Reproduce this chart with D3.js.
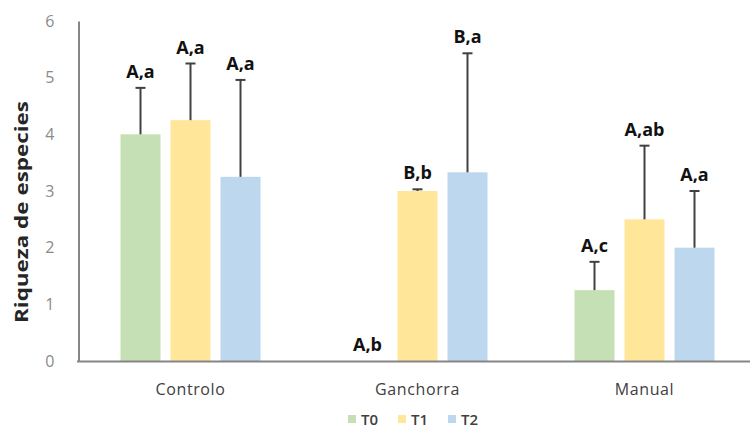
<!DOCTYPE html>
<html>
<head>
<meta charset="utf-8">
<script src="https://cdn.jsdelivr.net/npm/d3@7"></script>
<style>
  html, body { margin: 0; padding: 0; background: #fff; }
  svg { display: block; }
</style>
</head>
<body>
<svg id="chart" width="750" height="433"></svg>
<script>
// Species richness per site and sampling time
const categories = ["Controlo", "Ganchorra", "Manual"];
const seriesNames = ["T0", "T1", "T2"];
const valuesT0 = [4.0, 0, 1.25];
const valuesT1 = [4.25, 3.0, 2.5];
const valuesT2 = [3.25, 3.33, 2.0];
const errorsT0 = [0.82, 0, 0.5];
const errorsT1 = [1.0, 0.03, 1.3];
const errorsT2 = [1.71, 2.1, 1.0];
const lettersT0 = ["A,a", "A,b", "A,c"];
const lettersT1 = ["A,a", "B,b", "A,ab"];
const lettersT2 = ["A,a", "B,a", "A,a"];
const yTicks = [0, 1, 2, 3, 4, 5, 6];
const yTitle = "Riqueza de especies";

const colors = { T0: "#c5e0b4", T1: "#ffe699", T2: "#bdd7ee" };

const series = [
  { name: "T0", values: valuesT0, errors: errorsT0, letters: lettersT0 },
  { name: "T1", values: valuesT1, errors: errorsT1, letters: lettersT1 },
  { name: "T2", values: valuesT2, errors: errorsT2, letters: lettersT2 }
];

const svg = d3.select("#chart");

const y = d3.scaleLinear().domain([0, 6]).range([361, 21]);
const x0 = d3.scaleBand().domain(categories).range([77, 758]);
const x1 = d3.scaleBand().domain(seriesNames).range([-70, 70]).paddingInner(0.2);

// flatten for drawing
const rows = [];
series.forEach(s => {
  categories.forEach((c, i) => {
    rows.push({ cat: c, name: s.name, value: s.values[i], err: s.errors[i], letter: s.letters[i] });
  });
});

// bars
svg.append("g").selectAll("rect")
  .data(rows.filter(d => d.value > 0))
  .join("rect")
  .attr("x", d => x0(d.cat) + x0.bandwidth() / 2 + x1(d.name))
  .attr("y", d => y(d.value))
  .attr("width", x1.bandwidth())
  .attr("height", d => y(0) - y(d.value))
  .attr("fill", d => colors[d.name]);

// axes
const yAxis = d3.axisLeft(y).tickValues(yTicks).tickFormat(d3.format("d")).tickSize(0).tickPadding(24);
const gy = svg.append("g").attr("transform", "translate(78.5,0)").call(yAxis);
gy.select(".domain").attr("stroke", "#868686").attr("stroke-width", 2);
gy.selectAll("text")
  .attr("fill", "#8a8a8a")
  .style("font-family", "'Open Sans', sans-serif")
  .style("font-size", "16px");

const xAxis = d3.axisBottom(x0).tickSize(0).tickPadding(22);
const gx = svg.append("g").attr("transform", "translate(0,361.5)").call(xAxis);
gx.select(".domain").attr("stroke", "#868686").attr("stroke-width", 2)
  .attr("d", "M77,0H758");
gx.selectAll("text")
  .attr("fill", "#404040")
  .style("font-family", "'Open Sans', sans-serif")
  .style("font-size", "16px")
  .style("letter-spacing", "0.6px");

// error bars (plus direction)
const eb = svg.append("g").attr("stroke", "#404040").attr("stroke-width", 2);
rows.filter(d => d.err > 0).forEach(d => {
  const cx = x0(d.cat) + x0.bandwidth() / 2 + x1(d.name) + x1.bandwidth() / 2;
  eb.append("line").attr("x1", cx).attr("x2", cx)
    .attr("y1", y(d.value)).attr("y2", y(d.value + d.err));
  eb.append("line").attr("x1", cx - 5).attr("x2", cx + 5)
    .attr("y1", y(d.value + d.err)).attr("y2", y(d.value + d.err));
});

// significance letters
svg.append("g").selectAll("text")
  .data(rows)
  .join("text")
  .attr("x", d => x0(d.cat) + x0.bandwidth() / 2 + x1(d.name) + x1.bandwidth() / 2)
  .attr("y", d => y(d.value + d.err) - 10)
  .attr("text-anchor", "middle")
  .attr("fill", "#111")
  .style("font-family", "'Open Sans', sans-serif")
  .style("font-weight", "700")
  .style("font-size", "18px")
  .text(d => d.letter);

// y axis title
svg.append("text")
  .attr("transform", "translate(28,212) rotate(-90)")
  .attr("text-anchor", "middle")
  .attr("fill", "#262626")
  .attr("textLength", 222)
  .attr("lengthAdjust", "spacingAndGlyphs")
  .style("font-family", "'Open Sans', sans-serif")
  .style("font-weight", "700")
  .style("font-size", "17px")
  .text(yTitle);

// legend
const legend = svg.append("g").attr("transform", "translate(348,419)");
const legX = d3.scaleOrdinal().domain(seriesNames).range([0, 50, 100]);
const li = legend.selectAll("g").data(seriesNames).join("g")
  .attr("transform", d => `translate(${legX(d)},0)`);
li.append("rect").attr("x", 0).attr("y", -4).attr("width", 8).attr("height", 8)
  .attr("fill", d => colors[d]);
li.append("text").attr("x", 13).attr("y", 5.5)
  .attr("fill", "#404040")
  .style("font-family", "'Open Sans', sans-serif")
  .style("font-weight", "600")
  .style("font-size", "15px")
  .text(d => d);
</script>
</body>
</html>
